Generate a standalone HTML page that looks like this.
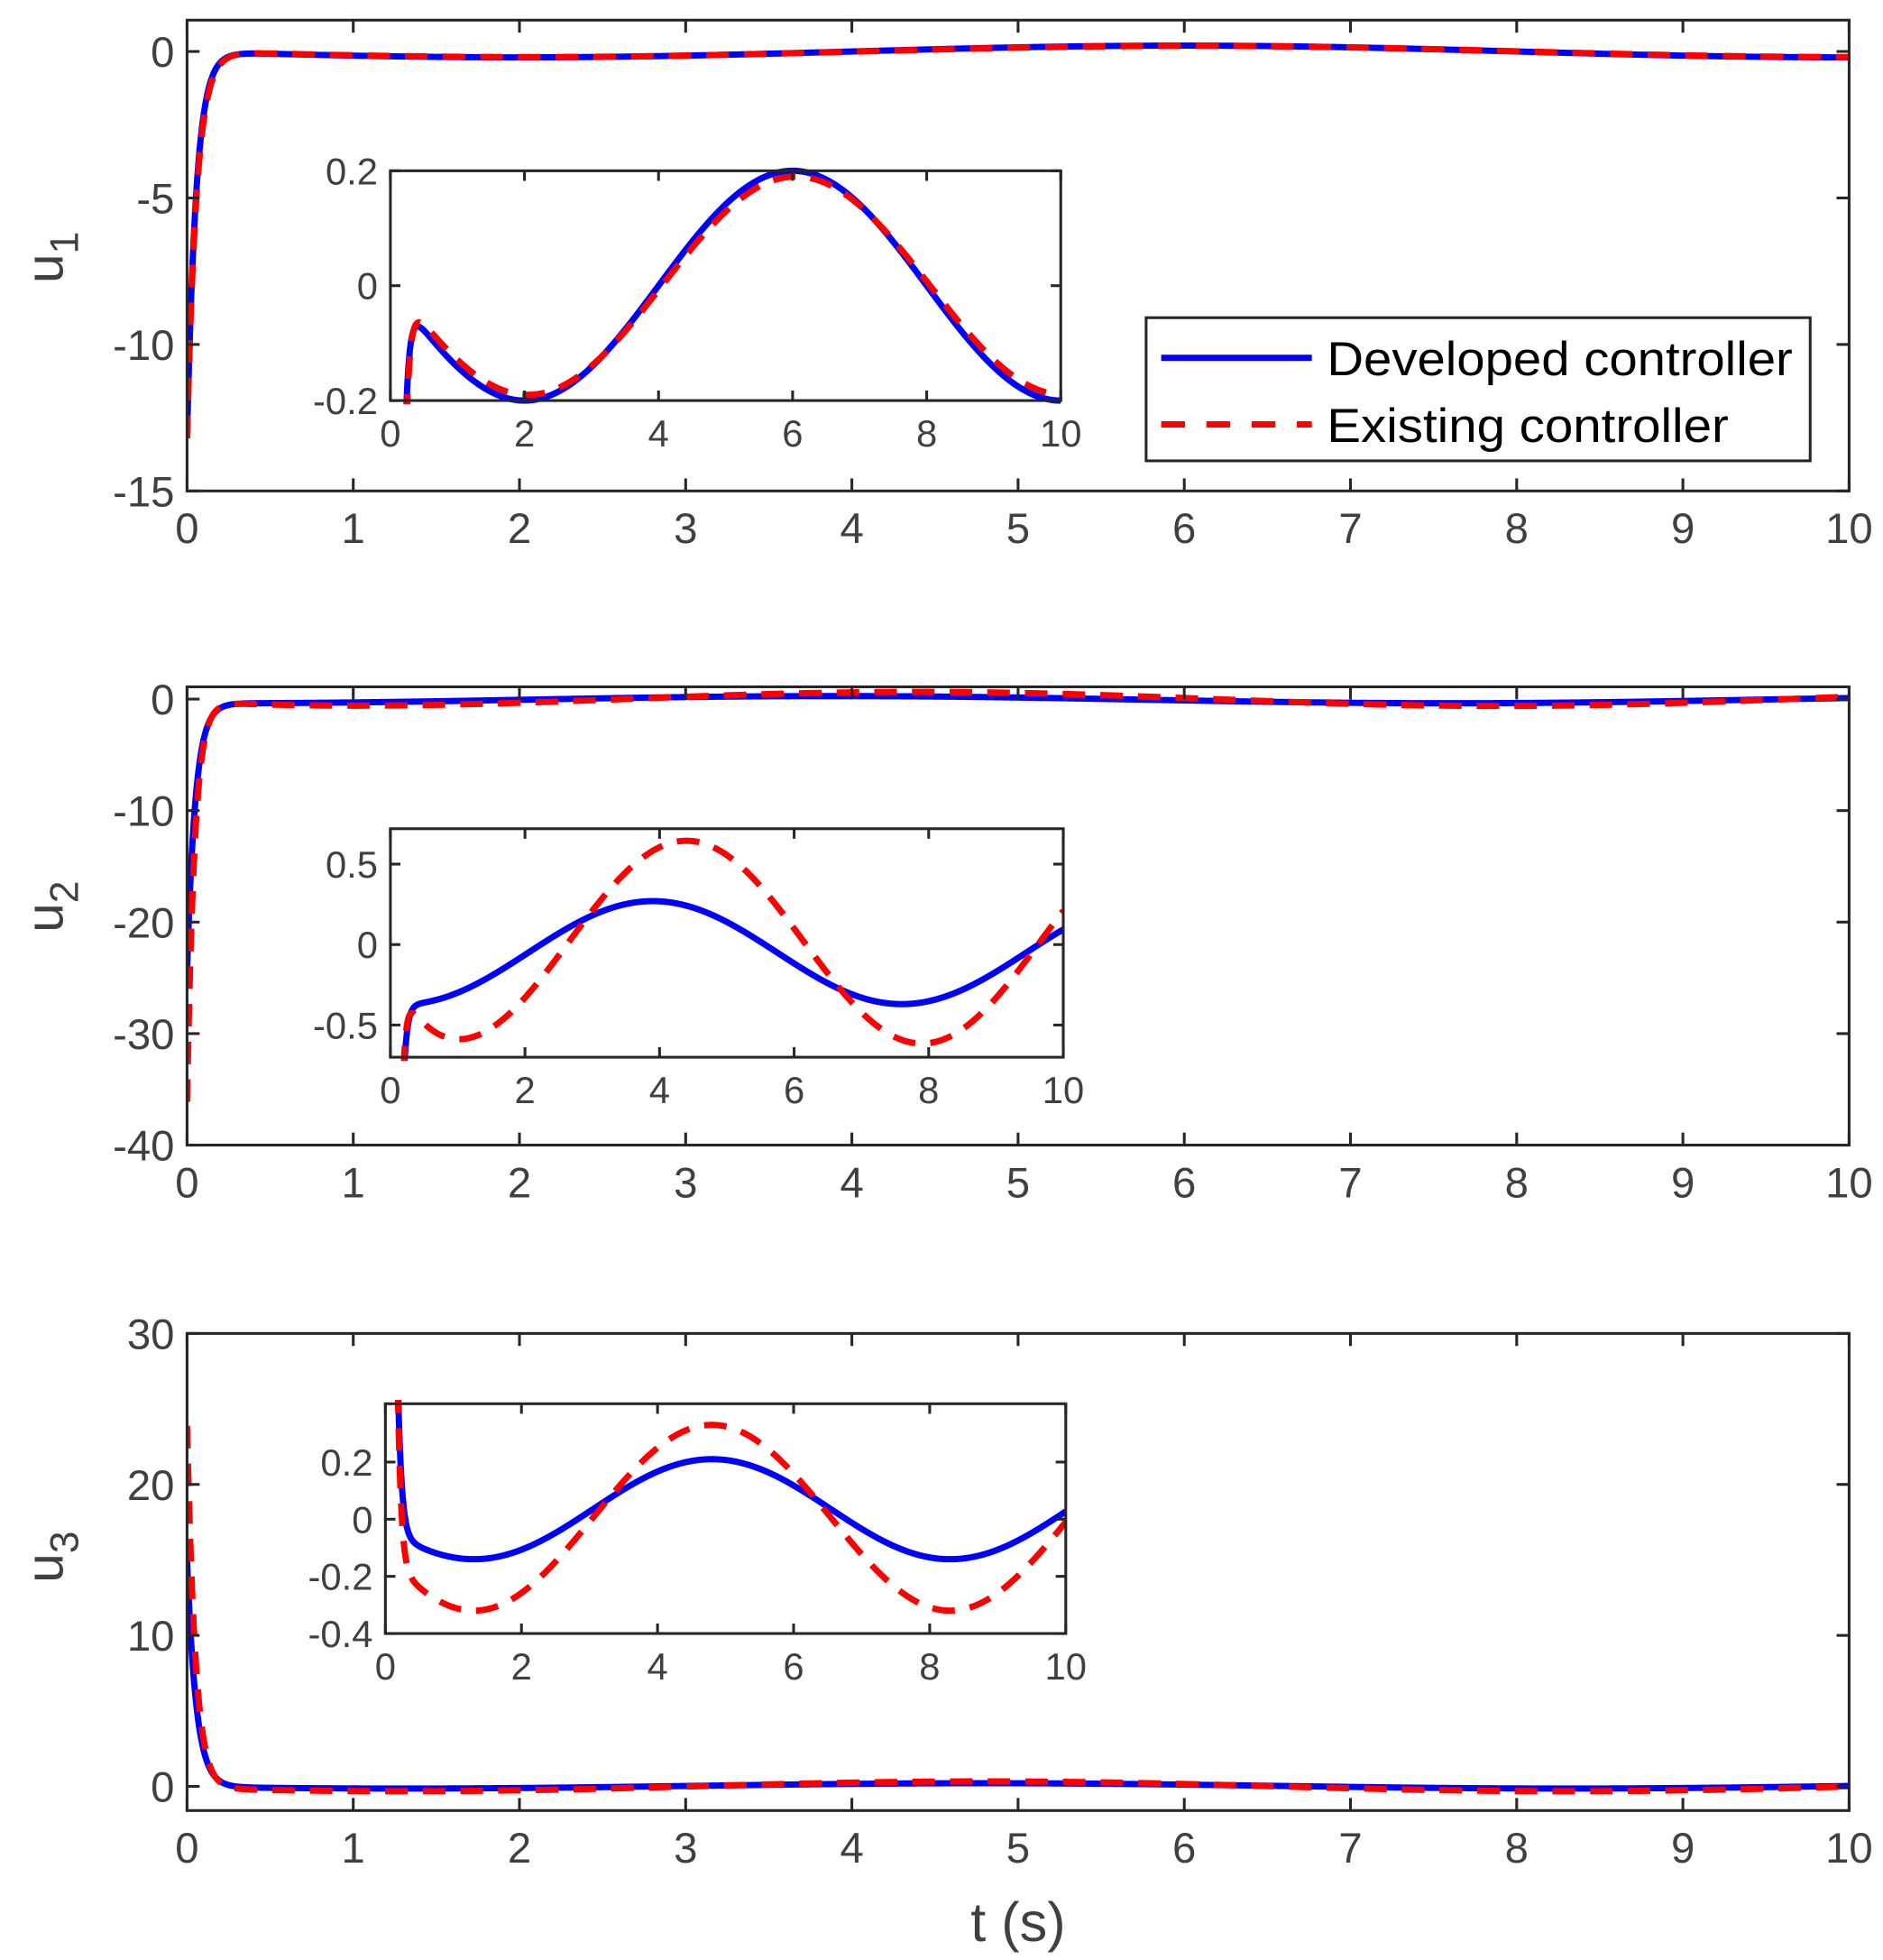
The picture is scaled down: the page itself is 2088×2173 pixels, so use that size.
<!DOCTYPE html>
<html><head><meta charset="utf-8"><style>
html,body{margin:0;padding:0;background:#fff;}
svg{display:block;}
text{font-family:"Liberation Sans",Arial,sans-serif;fill:#404040;}
</style></head><body>
<svg id="s" width="2088" height="2173" viewBox="0 0 1500 1561" xmlns="http://www.w3.org/2000/svg"></svg>
<script>
const S=document.getElementById('s');const NS='http://www.w3.org/2000/svg';
function el(t,a,txt){const e=document.createElementNS(NS,t);for(const k in a)e.setAttribute(k,a[k]);if(txt!==undefined)e.textContent=txt;S.appendChild(e);return e;}
let cid=0;
function axes(o){
 const {x0,x1,y0,y1,xmin,xmax,ymin,ymax,xt,yt,fs,tl,series}=o;
 const X=t=>x0+(t-xmin)/(xmax-xmin)*(x1-x0);
 const Y=v=>y1-(v-ymin)/(ymax-ymin)*(y1-y0);
 el('rect',{x:x0,y:y0,width:x1-x0,height:y1-y0,fill:'#fff',stroke:'none'});
 const id='c'+(cid++);
 const cp=document.createElementNS(NS,'clipPath');cp.setAttribute('id',id);
 const r=document.createElementNS(NS,'rect');r.setAttribute('x',x0);r.setAttribute('y',y0-3);r.setAttribute('width',x1-x0);r.setAttribute('height',y1-y0+6);cp.appendChild(r);S.appendChild(cp);
 for(const s of series){
  let d='';const N=2000;
  for(let i=0;i<=N;i++){const tt=xmin+(xmax-xmin)*i/N;let v=s.f(tt);v=Math.max(ymin-(ymax-ymin),Math.min(ymax+(ymax-ymin),v));d+=(i?'L':'M')+X(tt).toFixed(2)+' '+Y(v).toFixed(2);}
  const a={d:d,fill:'none',stroke:s.c,'stroke-width':5,'clip-path':'url(#'+id+')','stroke-linejoin':'round'};
  if(s.dash)a['stroke-dasharray']='18 12';
  el('path',a);
 }
 el('rect',{x:x0,y:y0,width:x1-x0,height:y1-y0,fill:'none',stroke:'#262626','stroke-width':2.2});
 for(const t of xt){const x=X(t);el('line',{x1:x,y1:y1,x2:x,y2:y1-tl,stroke:'#262626','stroke-width':2.2});el('line',{x1:x,y1:y0,x2:x,y2:y0+tl,stroke:'#262626','stroke-width':2.2});
  el('text',{x:x,y:y1+fs*1.22,'font-size':fs,'text-anchor':'middle'},String(t));}
 for(const v of yt){const y=Y(v);el('line',{x1:x0,y1:y,x2:x0+tl,y2:y,stroke:'#262626','stroke-width':2.2});el('line',{x1:x1,y1:y,x2:x1-tl,y2:y,stroke:'#262626','stroke-width':2.2});
  el('text',{x:x0-10,y:y+fs*0.36,'font-size':fs,'text-anchor':'end'},String(v));}
}
const E=Math.exp,C=Math.cos,P=Math.PI;
const d1=t=>-0.2*C(P*(t-2)/4)-13.2*E(-t/0.055);
const r1=t=>-0.19*C(P*(t-2.05)/4)-13.2*E(-t/0.058);
const d2=t=>-0.05+0.32*C(2*P*(t-3.9)/7.4)-24*E(-t/0.05);
const r2=t=>0.015+0.63*C(2*P*(t-4.4)/7.0)-36*E(-t/0.045)+0.3*E(-t/0.4);
const d3=t=>0.035+0.175*C(2*P*(t-4.8)/7)+15*E(-t/0.055);
const r3=t=>0.005+0.325*C(2*P*(t-4.8)/7)+24*E(-t/0.05);
const B='#0000ff',R='#ff0000',fsM=34,fsI=30;
function both(df,rf){return [{f:df,c:B},{f:rf,c:R,dash:1}];}
const X10=[0,1,2,3,4,5,6,7,8,9,10];
axes({x0:149,x1:1473,y0:16,y1:391,xmin:0,xmax:10,ymin:-15,ymax:1.07,xt:X10,yt:[-15,-10,-5,0],fs:fsM,tl:10,series:both(d1,r1)});
axes({x0:149,x1:1473,y0:547,y1:912,xmin:0,xmax:10,ymin:-40,ymax:1.1,xt:X10,yt:[-40,-30,-20,-10,0],fs:fsM,tl:10,series:both(d2,r2)});
axes({x0:149,x1:1473,y0:1062,y1:1442,xmin:0,xmax:10,ymin:-1.6,ymax:30,xt:X10,yt:[0,10,20,30],fs:fsM,tl:10,series:both(d3,r3)});
axes({x0:311,x1:845,y0:136,y1:319,xmin:0,xmax:10,ymin:-0.2,ymax:0.2,xt:[0,2,4,6,8,10],yt:[-0.2,0,0.2],fs:fsI,tl:8,series:both(d1,r1)});
axes({x0:311,x1:847,y0:660,y1:842,xmin:0,xmax:10,ymin:-0.70,ymax:0.72,xt:[0,2,4,6,8,10],yt:[-0.5,0,0.5],fs:fsI,tl:8,series:both(d2,r2)});
axes({x0:307,x1:849,y0:1118,y1:1301,xmin:0,xmax:10,ymin:-0.4,ymax:0.404,xt:[0,2,4,6,8,10],yt:[-0.4,-0.2,0,0.2],fs:fsI,tl:8,series:both(d3,r3)});
function ylab(y,n){const g=el('text',{x:0,y:0,'font-size':42,'text-anchor':'middle',transform:'translate(50,'+y+') rotate(-90)'});
 g.textContent='u';const ts=document.createElementNS(NS,'tspan');ts.setAttribute('font-size',32);ts.setAttribute('dy',12);ts.textContent=n;g.appendChild(ts);}
ylab(205,'1');ylab(722,'2');ylab(1240,'3');
el('text',{x:811,y:1546,'font-size':44,'text-anchor':'middle'},'t (s)');
el('rect',{x:913,y:253,width:529,height:114,fill:'#fff',stroke:'#262626','stroke-width':2.2});
el('line',{x1:925,y1:285,x2:1045,y2:285,stroke:B,'stroke-width':5});
el('line',{x1:925,y1:338,x2:1045,y2:338,stroke:R,'stroke-width':5,'stroke-dasharray':'19 17'});
el('text',{x:1057,y:299,'font-size':38,textLength:371,lengthAdjust:'spacingAndGlyphs',style:'fill:#000'},'Developed controller');
el('text',{x:1057,y:352,'font-size':38,textLength:320,lengthAdjust:'spacingAndGlyphs',style:'fill:#000'},'Existing controller');
</script>
</body></html>
